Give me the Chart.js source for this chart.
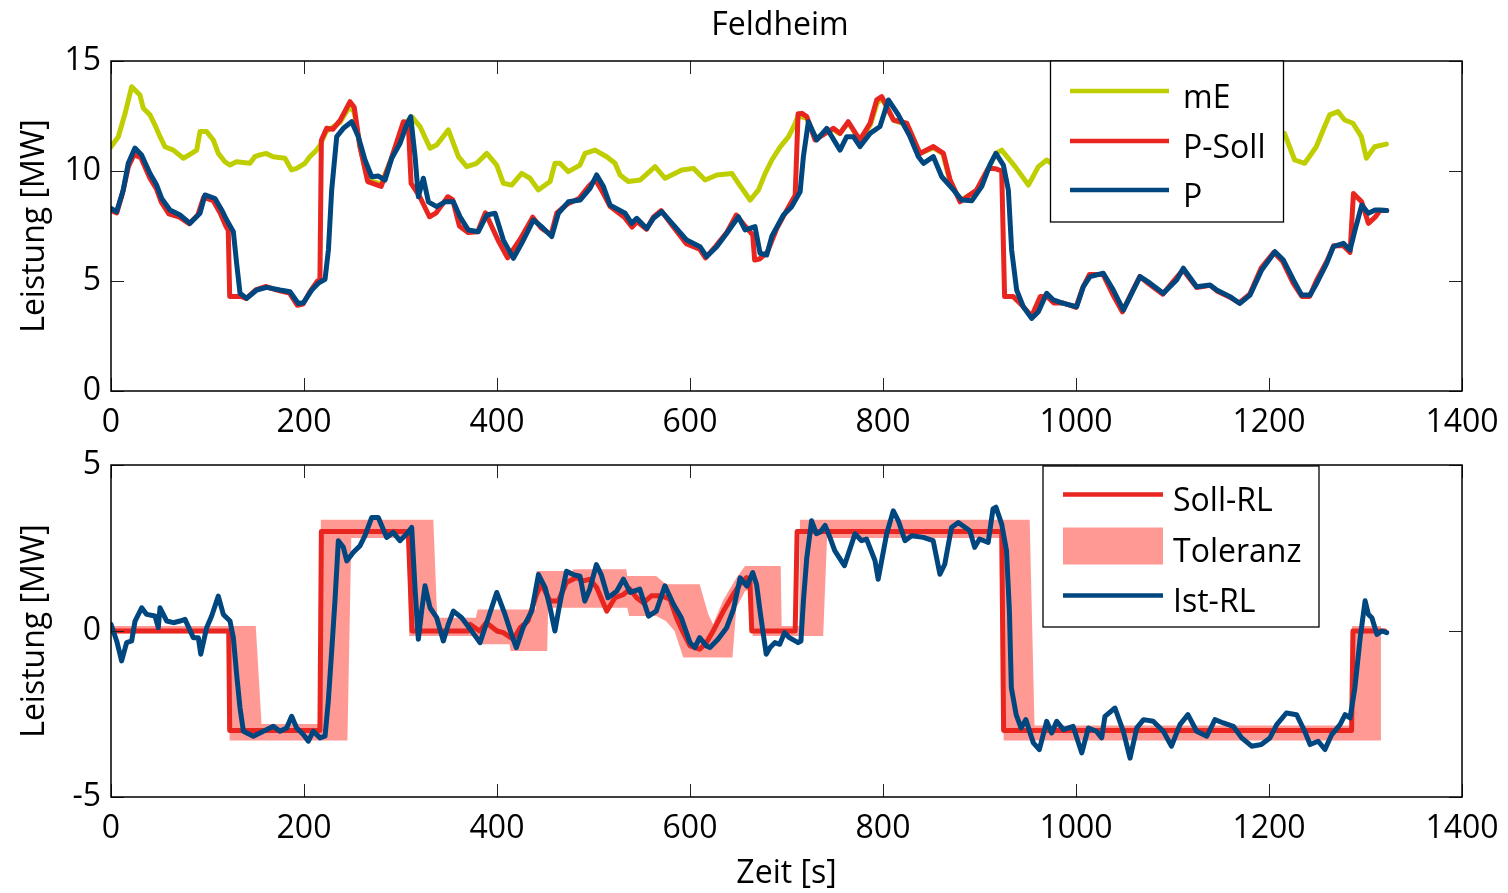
<!DOCTYPE html>
<html>
<head>
<meta charset="utf-8">
<script src="https://cdn.jsdelivr.net/npm/chart.js@4.4.0/dist/chart.umd.min.js"></script>
<style>
  body { margin: 0; background: #fff; }
  #wrap { position: relative; width: 1508px; height: 893px; }
  canvas { position: absolute; left: 0; }
</style>
</head>
<body>
<div id="wrap">
  <canvas id="topChart" width="1508" height="445" style="top:0"></canvas>
  <canvas id="botChart" width="1508" height="448" style="top:445px"></canvas>
</div>
<script>
// ---- top plot: mE, P-Soll, P (MW over time in s)
const meT = [0, 7.6, 14.5, 21.4, 30, 33.5, 40.4, 45.6, 50.8, 56, 64.6, 75, 83.6, 88.8, 92.2, 99.1, 106, 111.2, 118, 123.3, 130, 144, 149, 154.4, 161, 168, 180.3, 187, 192.4, 201, 206, 213, 217, 223, 237, 247, 252, 258, 266, 280, 290, 303, 311.6, 320.2, 330.6, 337.5, 349.6, 360, 368.6, 379, 389.4, 399.7, 406.6, 415.2, 425.6, 434.2, 442.8, 455, 460, 465.3, 473.9, 486, 491.2, 501.6, 513.7, 522.3, 527.5, 536.1, 548.2, 563.8, 574.2, 591.5, 603.6, 615.7, 627.8, 643.3, 650.2, 662.3, 671, 677.9, 684.8, 693.5, 702.2, 709, 712, 721, 730, 748, 755, 764, 776, 787, 794, 799, 811, 825, 838, 852, 862, 869, 880, 897, 909, 917, 923, 936.9, 950.7, 961, 969.7, 985, 1000, 1030, 1060, 1100, 1140, 1180, 1205, 1216, 1226.6, 1237, 1249, 1257.6, 1262.8, 1271.5, 1278.4, 1287, 1295.7, 1300.9, 1309.5, 1321.6];
const meV = [11.1, 11.56, 12.6, 13.83, 13.45, 12.85, 12.55, 12.09, 11.56, 11.1, 10.95, 10.58, 10.8, 10.95, 11.79, 11.79, 11.41, 10.8, 10.42, 10.27, 10.42, 10.35, 10.65, 10.73, 10.8, 10.65, 10.58, 10.05, 10.12, 10.35, 10.65, 10.95, 11.2, 11.8, 12.2, 12.9, 12.7, 11.1, 9.6, 9.4, 10.5, 12.1, 12.47, 12.02, 11.04, 11.18, 11.87, 10.65, 10.2, 10.35, 10.8, 10.27, 9.44, 9.36, 9.89, 9.67, 9.14, 9.52, 10.35, 10.35, 9.97, 10.27, 10.8, 10.95, 10.65, 10.35, 9.82, 9.52, 9.59, 10.2, 9.67, 10.05, 10.12, 9.59, 9.82, 9.89, 9.44, 8.68, 9.14, 9.89, 10.5, 11.1, 11.56, 12.17, 12.5, 12.4, 11.5, 11.9, 11.7, 12.2, 11.4, 12.1, 13.1, 13.3, 12.3, 12.1, 10.8, 11.05, 10.8, 9.6, 8.65, 9.1, 10.1, 10.8, 10.95, 10.2, 9.36, 10.2, 10.5, 10.0, 10.4, 9.9, 10.6, 10.2, 10.8, 10.6, 11.2, 11.71, 10.5, 10.35, 11.1, 12.02, 12.55, 12.7, 12.32, 12.17, 11.56, 10.58, 11.1, 11.22];

const psT = [0, 6, 12, 18, 24, 31, 40, 47, 52, 60, 71, 81, 90, 96, 106, 113, 119, 121.5, 123, 135, 140, 150, 160, 175, 185, 193, 199, 206, 214, 216.5, 218, 223.5, 230, 237.4, 247.7, 252, 258, 266, 280, 290, 303, 308, 311, 320, 330, 337, 349, 354, 361, 370, 380, 388, 401, 411, 424, 437, 446, 456, 462, 473, 485, 495, 502, 510, 517, 532, 540, 545, 555, 562, 570, 582, 596, 610, 616, 627, 638, 648, 657, 665, 667, 672, 680, 690, 700, 709, 712, 716, 721, 729.6, 748.6, 755.5, 764, 776, 786.6, 793.5, 798.7, 810.8, 824.6, 838.4, 852.2, 862.6, 869.5, 879.8, 897, 909, 917, 923, 926, 935, 945, 954, 963, 970, 977, 987, 1000, 1007, 1014, 1028, 1038, 1048, 1058, 1066, 1076, 1090, 1103, 1111, 1125, 1139, 1146, 1160, 1169, 1180, 1192, 1205, 1214, 1225, 1234, 1242, 1249, 1260, 1267, 1277, 1284, 1287.5, 1296, 1303, 1310, 1315, 1322];
const psV = [8.2, 8.1, 9.0, 10.2, 10.75, 10.6, 9.7, 9.2, 8.6, 8.05, 7.9, 7.6, 8.0, 8.8, 8.65, 8.1, 7.5, 7.3, 4.3, 4.3, 4.2, 4.6, 4.75, 4.55, 4.45, 3.9, 3.95, 4.5, 5.0, 5.05, 11.4, 11.94, 11.9, 12.3, 13.15, 12.9, 11.1, 9.52, 9.3, 10.5, 12.24, 12.2, 9.44, 8.83, 7.92, 8.1, 8.83, 8.7, 7.5, 7.2, 7.24, 8.1, 6.86, 6.05, 6.9, 7.9, 7.4, 7.1, 8.1, 8.5, 8.75, 9.3, 9.6, 9.0, 8.4, 7.9, 7.45, 7.7, 7.35, 7.9, 8.2, 7.5, 6.7, 6.45, 6.05, 6.6, 7.2, 8.0, 7.5, 7.1, 5.95, 6.0, 6.3, 7.4, 8.2, 8.9, 12.6, 12.62, 12.47, 11.41, 11.94, 11.71, 12.24, 11.41, 12.17, 13.23, 13.38, 12.32, 12.17, 10.8, 11.11, 10.8, 9.6, 8.6, 9.14, 10.12, 10.1, 10.0, 4.29, 4.29, 3.85, 3.4, 4.29, 4.3, 4.0, 4.0, 3.8, 4.7, 5.3, 5.3, 4.4, 3.6, 4.5, 5.2, 4.85, 4.4, 5.1, 5.5, 4.7, 4.8, 4.55, 4.25, 4.0, 4.4, 5.6, 6.3, 5.9, 4.9, 4.3, 4.3, 5.0, 5.9, 6.6, 6.6, 6.3, 8.98, 8.6, 7.62, 7.9, 8.2, 8.2];

const pT = [0, 5.8, 12.7, 17.9, 24.8, 31.7, 40.4, 47.3, 52.5, 61.1, 71.5, 81.9, 92.2, 97.4, 107.8, 114.7, 119.9, 126.8, 130.2, 133.7, 140.6, 151, 161.3, 175.1, 185.5, 194.1, 199.3, 208, 214.9, 221.8, 225.3, 228.7, 233.9, 240.8, 249.4, 256.3, 263.2, 270.2, 277.1, 284, 290.9, 299.6, 305.7, 310.6, 315.1, 318.5, 323.7, 328.9, 337.5, 346.2, 354.8, 361.7, 370.3, 380.7, 389.4, 398, 406.6, 417, 425.6, 437.7, 446.3, 456.7, 463.6, 474, 486.1, 496.4, 503.3, 510.3, 517.2, 532.7, 539.6, 544.8, 555.2, 562.1, 570.7, 582.8, 596.6, 610.4, 617.3, 627.7, 638.1, 650.2, 657.1, 667.4, 672.6, 679.5, 684.7, 696.8, 705.4, 714.1, 717.5, 722.7, 731.4, 741.7, 755.5, 762.4, 769.3, 776.2, 786.6, 796.9, 805.6, 815.9, 828, 836.7, 841.9, 852.2, 860.9, 873, 881.6, 892, 902.4, 911, 917, 924.7, 929.9, 933.3, 938.5, 945.4, 954, 961, 969.6, 976.5, 986.9, 1000.7, 1007.6, 1014.5, 1028.3, 1038.7, 1049.1, 1059.4, 1066.4, 1076.7, 1090.5, 1104.3, 1111.2, 1125, 1138.9, 1145.8, 1159.6, 1169.9, 1180.3, 1192.4, 1206.2, 1214.9, 1225.3, 1233.9, 1242.6, 1249.5, 1259.8, 1266.7, 1277.1, 1284, 1289.2, 1296.1, 1303, 1309.9, 1315.1, 1322];
const pV = [8.3, 8.15, 9.14, 10.35, 11.04, 10.73, 9.89, 9.36, 8.75, 8.23, 8.0, 7.62, 8.08, 8.91, 8.75, 8.23, 7.77, 7.24, 5.8, 4.44, 4.21, 4.59, 4.71, 4.59, 4.51, 3.98, 4.01, 4.59, 4.9, 5.08, 6.41, 9.14, 11.56, 11.94, 12.24, 11.56, 10.5, 9.74, 9.77, 9.59, 10.58, 11.26, 12.02, 12.47, 10.65, 8.83, 9.67, 8.6, 8.38, 8.6, 8.6, 7.92, 7.32, 7.24, 8.0, 8.08, 6.86, 6.03, 6.71, 7.77, 7.47, 7.02, 8.08, 8.6, 8.68, 9.21, 9.82, 9.29, 8.45, 8.08, 7.62, 7.85, 7.39, 7.85, 8.15, 7.55, 6.86, 6.56, 6.11, 6.56, 7.17, 7.92, 7.32, 7.47, 6.26, 6.18, 7.02, 8.0, 8.38, 9.06, 10.65, 12.24, 11.41, 11.94, 10.95, 11.56, 11.56, 11.11, 11.71, 12.02, 13.23, 12.55, 11.56, 10.65, 10.35, 10.65, 9.74, 9.14, 8.68, 8.65, 9.3, 10.3, 10.8, 10.27, 9.14, 6.41, 4.59, 3.83, 3.3, 3.6, 4.44, 4.14, 3.98, 3.83, 4.74, 5.2, 5.35, 4.59, 3.68, 4.59, 5.2, 4.9, 4.44, 5.05, 5.58, 4.74, 4.82, 4.59, 4.29, 3.98, 4.36, 5.5, 6.33, 5.95, 5.05, 4.36, 4.36, 4.9, 5.8, 6.56, 6.71, 6.41, 7.32, 8.45, 8.08, 8.23, 8.23, 8.2];

// ---- bottom plot: Soll-RL, Toleranz band, Ist-RL
const sollT = [0, 122, 123, 216.5, 218, 308, 312, 370, 372, 382, 389, 400, 406.5, 417, 424, 432, 441, 446, 455, 463.5, 472, 482.5, 489.5, 496.4, 503.3, 513.7, 522.3, 531, 537.8, 544.7, 551.6, 560, 570.6, 579.2, 586, 593, 600, 610, 617, 624, 634.6, 645, 651.8, 658.7, 662, 664, 709, 711, 923, 925, 1285.6, 1287, 1320];
const sollV = [0, 0, -3, -3, 3, 3, 0, 0, 0.2, 0, 0.25, 0, -0.05, -0.25, 0.1, 0.3, 1.1, 1.41, 0.9, 0.9, 1.46, 1.61, 1.51, 1.56, 1.31, 0.6, 1.0, 1.1, 1.26, 1.0, 0.85, 1.06, 1.06, 0.96, 0.4, -0.05, -0.45, -0.55, -0.35, 0, 0.6, 1.11, 1.41, 1.61, 1.55, 0, 0, 3, 3, -3, -3, 0, 0];

const tolT  = [0, 122, 123, 150, 156, 216.5, 217.5, 245, 249, 307, 309, 334, 338, 378, 380, 413, 414, 440, 441, 452, 453, 478, 479, 534, 535, 537, 565, 575, 584, 593, 610, 614, 619, 624, 634, 644, 648, 657, 662, 665, 694, 695, 713, 714, 738, 742, 923, 925, 952, 957, 1285, 1286, 1316];
const tolHi = [0.15, 0.15, 0.15, 0.15, -2.8, -2.8, 3.35, 3.35, 3.35, 3.35, 3.35, 3.35, 0.4, 0.4, 0.65, 0.65, 0.65, 0.65, 1.81, 1.81, 1.81, 1.81, 1.86, 1.86, 1.66, 1.66, 1.66, 1.41, 1.41, 1.41, 1.41, 1.0, 0.5, 0.2, 0.9, 1.4, 1.6, 1.96, 1.96, 1.96, 1.96, 0.15, 0.15, 3.35, 3.35, 3.35, 3.35, 3.35, 3.35, -2.85, -2.85, 0.15, 0.15];
const tolLo = [-0.07, -0.07, -3.3, -3.3, -3.3, -3.3, -3.3, -3.3, 2.8, 2.8, -0.15, -0.15, -0.15, -0.15, -0.4, -0.4, -0.6, -0.6, -0.6, -0.6, 0.7, 0.7, 0.7, 0.7, 0.7, 0.45, 0.45, 0.3, 0.0, -0.8, -0.8, -0.8, -0.8, -0.8, -0.8, -0.8, 0.7, 1.2, 1.25, -0.15, -0.15, -0.15, -0.15, -0.15, -0.15, 2.8, 2.8, -3.3, -3.3, -3.3, -3.3, -3.3, -3.3];

const istT = [0, 5.9, 11, 16.2, 21.4, 24.9, 31.8, 37, 45.6, 49, 50.8, 57.8, 64.6, 71.5, 76.7, 85.3, 90.5, 93, 99.1, 104.3, 111.2, 116.4, 123.3, 126.8, 130.2, 133.7, 137.2, 147.5, 157.9, 168.2, 175.1, 182, 187.2, 192.4, 199.3, 204.5, 209.6, 216.6, 221.8, 225.2, 228.7, 232.1, 235.6, 240.8, 244.3, 251.2, 258.1, 263.2, 270.2, 277, 285.6, 292.5, 299.4, 306.3, 311.6, 315, 318.5, 321.9, 325.4, 330.6, 337.5, 344.4, 349.5, 354.8, 363.4, 373.7, 382.4, 391, 399.7, 408.3, 415, 420, 427, 436, 443, 450, 455, 460, 464, 467, 472, 479, 486, 491, 496, 503, 508, 515, 524, 531, 538, 548, 557, 565, 574, 583, 591, 600, 605, 610, 617, 620.7, 629, 638, 645, 652, 659, 665, 669, 672.6, 676, 679, 683, 688, 693, 698, 703, 712, 715, 717.5, 721, 726, 731, 735, 740, 745, 750, 760, 771, 777.8, 783, 791.7, 795, 803.8, 810.7, 815.9, 822.8, 829.7, 841.8, 852, 859, 864, 871, 878, 890, 895, 900, 909, 914, 917, 923, 928, 931, 933, 938, 943, 948, 955.8, 962, 969.6, 974.8, 980, 987, 997, 1002, 1006, 1012.8, 1021, 1026.6, 1030, 1040.4, 1049, 1056, 1063, 1070, 1080, 1090.5, 1099, 1107.7, 1116, 1125, 1135.5, 1144, 1152.7, 1163, 1171.7, 1182, 1192, 1201, 1208, 1218, 1228.6, 1237, 1242.6, 1251, 1258, 1265, 1273.6, 1278.9, 1284, 1289, 1294.5, 1299.6, 1303, 1306.6, 1311.8, 1317, 1322];
const istV = [0.2, -0.3, -0.9, -0.35, -0.3, 0.3, 0.7, 0.5, 0.45, 0.1, 0.7, 0.3, 0.25, 0.3, 0.35, -0.2, -0.2, -0.7, 0.1, 0.45, 1.05, 0.5, 0.3, -0.2, -1.31, -2.32, -3.02, -3.17, -3.02, -2.87, -3.02, -2.92, -2.57, -2.92, -3.12, -3.32, -3.02, -3.22, -3.17, -2.11, -0.6, 0.91, 2.72, 2.52, 2.11, 2.37, 2.57, 2.87, 3.42, 3.42, 2.82, 2.97, 2.72, 2.92, 3.12, 1.31, -0.25, 0.6, 1.36, 0.7, 0.4, -0.3, 0.2, 0.6, 0.4, 0, -0.35, 0.4, 1.16, 0.5, -0.1, -0.5, 0.1, 0.6, 1.7, 1.3, 0.7, 0, 0.65, 1.1, 1.8, 1.7, 1.65, 0.9, 1.25, 2.0, 1.7, 1.0, 1.2, 1.56, 1.16, 1.26, 0.45, 0.6, 1.36, 0.8, 0.4, -0.35, -0.5, -0.2, -0.45, -0.5, -0.25, 0.1, 0.65, 1.6, 1.35, 1.76, 1.4, 0.6, -0.1, -0.7, -0.5, -0.35, -0.4, -0.05, -0.2, -0.35, -0.3, 0.9, 2.2, 3.32, 2.93, 2.98, 3.18, 2.82, 2.42, 1.97, 2.93, 2.72, 2.77, 2.12, 1.56, 2.93, 3.62, 3.32, 2.72, 2.87, 2.82, 2.72, 1.71, 2.01, 3.12, 3.27, 3.02, 2.52, 2.77, 2.67, 3.68, 3.73, 3.22, 2.42, 0.6, -1.71, -2.52, -2.92, -2.67, -3.37, -3.57, -2.72, -3.07, -2.72, -2.97, -2.87, -3.32, -3.67, -2.92, -3.02, -3.22, -2.57, -2.32, -3.02, -3.83, -2.92, -2.67, -2.72, -3.02, -3.47, -2.82, -2.52, -3.02, -3.17, -2.67, -2.77, -2.87, -3.22, -3.47, -3.42, -3.22, -2.82, -2.47, -2.52, -3.02, -3.42, -3.32, -3.57, -3.12, -2.82, -2.52, -2.62, -1.71, -0.2, 0.91, 0.5, 0.4, -0.1, 0, -0.05];

const YELLOW = '#BECE00';
const RED = '#E8251F';
const BLUE = '#00467F';
const PINK = '#FF9994';
const FONT = "'Open Sans', 'DejaVu Sans', sans-serif";

Chart.defaults.font.family = FONT;
Chart.defaults.font.size = 32;
Chart.defaults.color = '#000';

const pts = (t, v) => t.map((x, i) => ({ x: x, y: v[i] }));

function lineSet(label, t, v, color) {
  return {
    label: label, data: pts(t, v), borderColor: color, borderWidth: 5,
    pointRadius: 0, tension: 0, fill: false,
    borderJoinStyle: 'round', borderCapStyle: 'round'
  };
}

// inner ticks, box, legend and title, drawn on top of the data
const framePlugin = {
  id: 'frame',
  afterDatasetsDraw(chart, args, opts) {
    const { ctx, chartArea: a } = chart;
    const xs = chart.scales.x, ys = chart.scales.y;
    ctx.save();
    ctx.strokeStyle = '#222';
    ctx.lineWidth = 1;
    ctx.beginPath();
    xs.ticks.forEach(tk => {
      const px = Math.round(xs.getPixelForValue(tk.value)) + 0.5;
      ctx.moveTo(px, a.bottom); ctx.lineTo(px, a.bottom - 13);
      ctx.moveTo(px, a.top); ctx.lineTo(px, a.top + 13);
    });
    ys.ticks.forEach(tk => {
      const py = Math.round(ys.getPixelForValue(tk.value)) + 0.5;
      ctx.moveTo(a.left, py); ctx.lineTo(a.left + 13, py);
      ctx.moveTo(a.right, py); ctx.lineTo(a.right - 13, py);
    });
    ctx.stroke();
    ctx.strokeStyle = '#000';
    ctx.lineWidth = 1.5;
    ctx.strokeRect(a.left, a.top, a.right - a.left, a.bottom - a.top);

    const lg = opts.legend;
    if (lg) {
      ctx.fillStyle = '#fff';
      ctx.fillRect(lg.x, lg.y, lg.w, lg.h);
      ctx.strokeStyle = '#000';
      ctx.lineWidth = 1.3;
      ctx.strokeRect(lg.x, lg.y, lg.w, lg.h);
      ctx.font = '32px ' + FONT;
      ctx.textBaseline = 'alphabetic';
      ctx.textAlign = 'left';
      lg.items.forEach(it => {
        if (it.box) {
          ctx.fillStyle = it.color;
          ctx.fillRect(lg.x1, it.y - 18, lg.x2 - lg.x1, 37);
        } else {
          ctx.strokeStyle = it.color;
          ctx.lineWidth = 4.5;
          ctx.beginPath();
          ctx.moveTo(lg.x1, it.y); ctx.lineTo(lg.x2, it.y);
          ctx.stroke();
        }
        ctx.fillStyle = '#000';
        ctx.fillText(it.label, lg.tx, it.y + 16.5);
      });
    }
    if (opts.title) {
      ctx.fillStyle = '#000';
      ctx.font = '32px ' + FONT;
      ctx.textAlign = 'center';
      ctx.textBaseline = 'alphabetic';
      ctx.fillText(opts.title, 780, 35);
    }
    ctx.restore();
  }
};

function axes(yMin, yMax, xAxisHeight, xTitle) {
  return {
    x: {
      type: 'linear', min: 0, max: 1400,
      ticks: { stepSize: 200, padding: 13, maxRotation: 0, autoSkip: false, callback: v => String(v) },
      grid: { display: false, drawTicks: false },
      border: { display: false },
      title: xTitle ? { display: true, text: xTitle, padding: { top: 0, bottom: 0 } } : { display: false },
      afterFit: s => { s.height = xAxisHeight; s.paddingLeft = 0; s.paddingRight = 0; }
    },
    y: {
      min: yMin, max: yMax,
      ticks: { stepSize: 5, padding: 10, callback: v => String(v) },
      grid: { display: false, drawTicks: false },
      border: { display: false },
      title: { display: true, text: 'Leistung [MW]', padding: { top: 16, bottom: 0 } },
      afterFit: s => { s.width = 111; s.paddingTop = 0; s.paddingBottom = 0; }
    }
  };
}

new Chart(document.getElementById('topChart'), {
  type: 'line',
  data: {
    datasets: [
      lineSet('P', pT, pV, BLUE),
      lineSet('P-Soll', psT, psV, RED),
      lineSet('mE', meT, meV, YELLOW)
    ]
  },
  options: {
    responsive: false, animation: false, devicePixelRatio: 1,
    layout: { padding: { left: 0, right: 46, top: 61, bottom: 0 } },
    scales: axes(0, 15, 54, null),
    plugins: {
      legend: { display: false }, tooltip: { enabled: false },
      frame: {
        title: 'Feldheim',
        legend: {
          x: 1050.5, y: 61, w: 233, h: 161, x1: 1070, x2: 1169, tx: 1183,
          items: [
            { label: 'mE', color: YELLOW, y: 91 },
            { label: 'P-Soll', color: RED, y: 141 },
            { label: 'P', color: BLUE, y: 190 }
          ]
        }
      }
    }
  },
  plugins: [framePlugin]
});

const hiSet = {
  label: 'Toleranz', data: pts(tolT, tolHi), borderWidth: 0, borderColor: 'rgba(0,0,0,0)',
  pointRadius: 0, tension: 0, fill: { target: 3 }, backgroundColor: PINK
};
const loSet = {
  label: 'Toleranz-unten', data: pts(tolT, tolLo), borderWidth: 0, borderColor: 'rgba(0,0,0,0)',
  pointRadius: 0, tension: 0, fill: false
};

new Chart(document.getElementById('botChart'), {
  type: 'line',
  data: {
    datasets: [
      lineSet('Ist-RL', istT, istV, BLUE),
      lineSet('Soll-RL', sollT, sollV, RED),
      hiSet,
      loSet
    ]
  },
  options: {
    responsive: false, animation: false, devicePixelRatio: 1,
    layout: { padding: { left: 0, right: 46, top: 20, bottom: 0 } },
    scales: axes(-5, 5, 96, 'Zeit [s]'),
    plugins: {
      legend: { display: false }, tooltip: { enabled: false },
      frame: {
        legend: {
          x: 1043, y: 21, w: 276, h: 161, x1: 1063, x2: 1163, tx: 1173,
          items: [
            { label: 'Soll-RL', color: RED, y: 49.5 },
            { label: 'Toleranz', color: PINK, y: 100.5, box: true },
            { label: 'Ist-RL', color: BLUE, y: 150.5 }
          ]
        }
      }
    }
  },
  plugins: [framePlugin]
});
</script>
</body>
</html>
